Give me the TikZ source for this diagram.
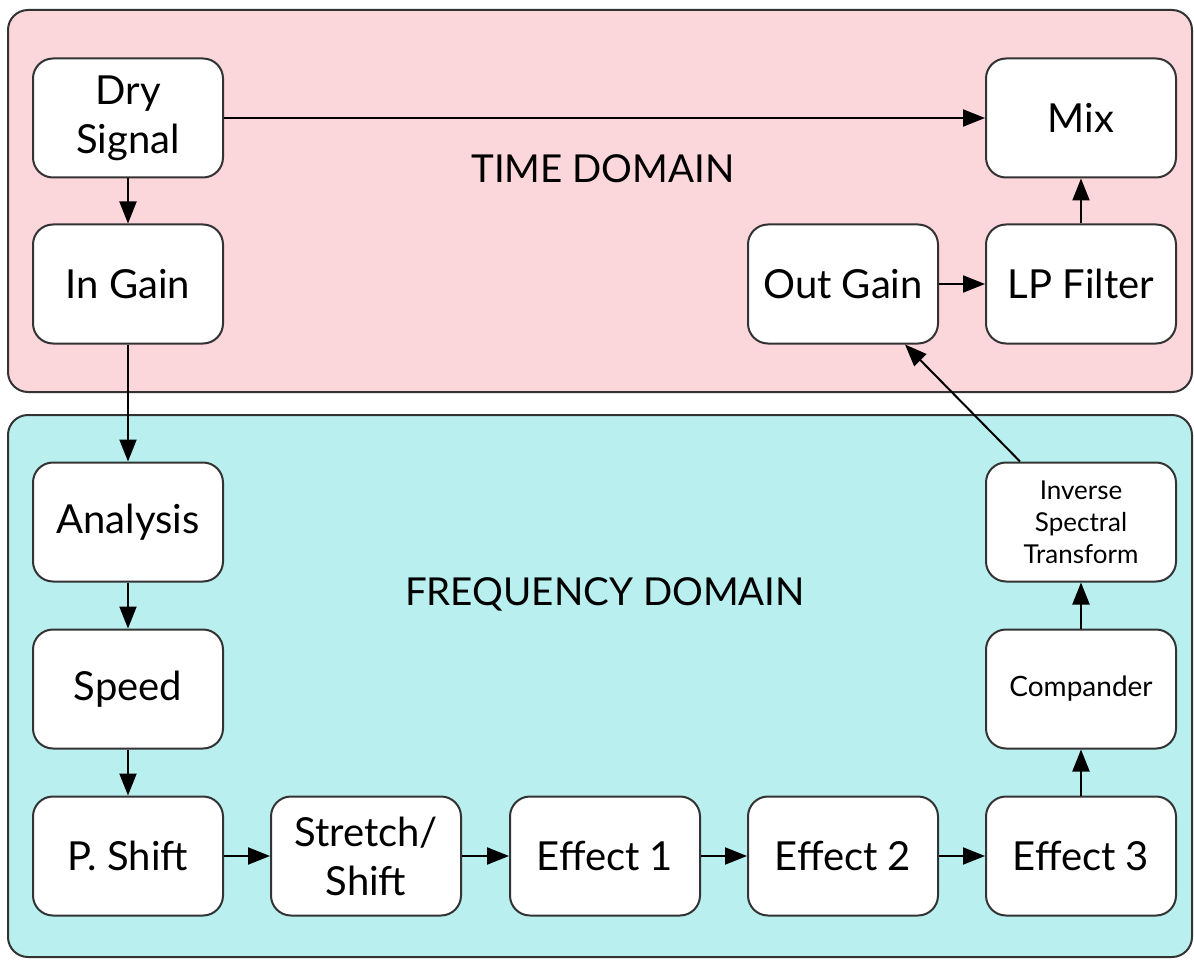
\documentclass[tikz,border=0pt]{standalone}
\usepackage{fontspec}
\setmainfont{Lato}
\usetikzlibrary{arrows.meta,positioning,calc}
\definecolor{pinkbg}{HTML}{FBD6DB}
\definecolor{bluebg}{HTML}{B9EFEF}
\definecolor{edge}{HTML}{333333}
\tikzset{
  panel/.style={draw=edge,line width=2pt,rounded corners=20pt},
  blk/.style={draw=edge,fill=white,line width=2pt,rounded corners=20pt,
    minimum width=190pt,minimum height=119pt,align=center,inner sep=2pt,
    font=\fontsize{40}{49}\selectfont},
  smallblk/.style={blk,font=\fontsize{26}{32}\selectfont},
  midblk/.style={blk,font=\fontsize{28}{32}\selectfont},
  domlabel/.style={font=\fontsize{38.5}{44}\selectfont,inner sep=0pt},
  flow/.style={-{Triangle[length=22pt,width=17pt]},line width=2pt,black},
}
\begin{document}
\begin{tikzpicture}[x=1pt,y=-1pt]
\useasboundingbox (0,0) rectangle (1194,960);
\draw[panel,fill=pinkbg] (8,10) rectangle (1192,392);
\draw[panel,fill=bluebg] (8,415) rectangle (1192,957);
\node[domlabel] (tlabel) at (603,169) {TIME DOMAIN};
\node[domlabel] (flabel) at (605,594) {FREQUENCY DOMAIN};
% time domain
\node[blk] (dry) at (128,118) {Dry\\Signal};
\node[blk] (ingain) at (128,284) {In Gain};
\node[blk] (mix) at (1081,118) {Mix};
\node[blk] (outgain) at (843,284) {Out Gain};
\node[blk] (lp) at (1081,284) {LP Filter};
% frequency domain
\node[blk] (analysis) at (128,522) {Analysis};
\node[blk] (speed) at (128,689) {Speed};
\node[blk] (pshift) at (128,856) {P. Shift};
\node[blk] (stretch) at (366,856) {Stretch/\\Shift};
\node[blk] (eff1) at (605,856) {Effect 1};
\node[blk] (eff2) at (843,856) {Effect 2};
\node[blk] (eff3) at (1081,856) {Effect 3};
\node[midblk] (comp) at (1081,689) {Compander};
\node[smallblk] (inv) at (1081,522) {Inverse\\Spectral\\Transform};
% connectors
\draw[flow] (dry.east) -- (mix.west);
\draw[flow] (dry) -- (ingain);
\draw[flow] (ingain) -- (analysis);
\draw[flow] (analysis) -- (speed);
\draw[flow] (speed) -- (pshift);
\draw[flow] (pshift) -- (stretch);
\draw[flow] (stretch) -- (eff1);
\draw[flow] (eff1) -- (eff2);
\draw[flow] (eff2) -- (eff3);
\draw[flow] (eff3) -- (comp);
\draw[flow] (comp) -- (inv);
\draw[flow] ([xshift=-61pt]inv.north) -- ([xshift=62pt]outgain.south);
\draw[flow] (outgain) -- (lp);
\draw[flow] (lp) -- (mix);
\end{tikzpicture}
\end{document}
